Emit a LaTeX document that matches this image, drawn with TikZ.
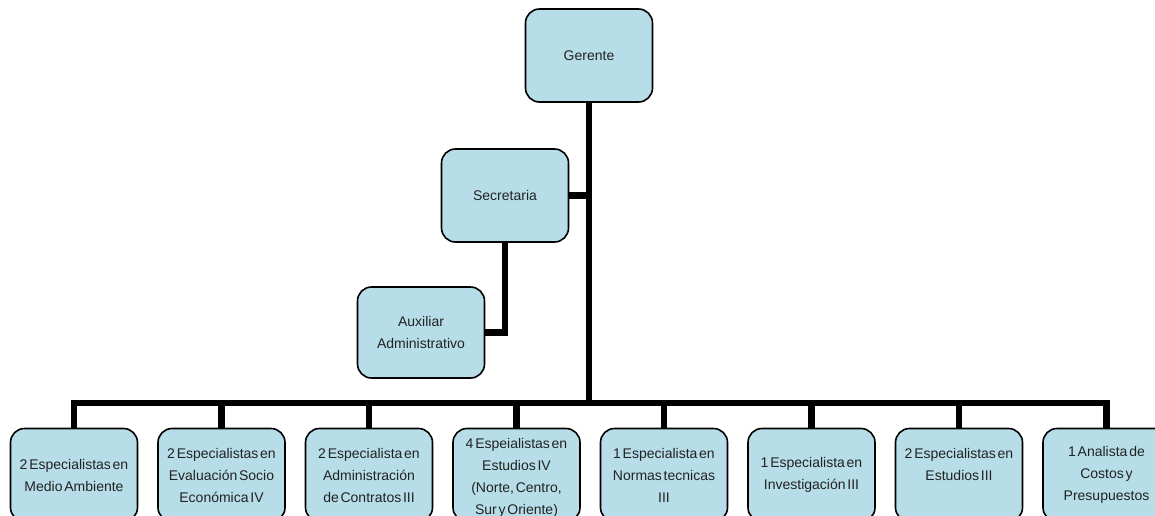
\documentclass[tikz,border=0pt]{standalone}
\usepackage{fontspec}
\setmainfont{Liberation Sans}[WordSpace=0.45]
\definecolor{boxfill}{HTML}{B7DEE8}
\definecolor{inkgray}{HTML}{222222}
\begin{document}
\begin{tikzpicture}[x=1pt,y=-1pt,
  post/.style={draw=black, line width=1.6pt, fill=boxfill, rounded corners=14pt,
    minimum width=127pt, minimum height=93pt, align=center, inner sep=2pt,
    text=inkgray, font=\fontsize{14}{22}\selectfont},
  caption/.style={align=center, inner sep=0pt, text=inkgray,
    font=\fontsize{14}{22}\selectfont},
  link/.style={draw=black, line width=6.5pt}]
\useasboundingbox (0,0) rectangle (1155,515);

% management
\node[post] (ger) at (589,55.5) {Gerente};
\node[post] (sec) at (505,195.5) {Secretaria};
\node[post, minimum height=91pt] (aux) at (421,332.5) {Auxiliar\\Administrativo};

% specialist positions
\node[post] (b1) at (74,475) {2 Especialistas en\\Medio Ambiente};
\node[post] (b2) at (221.5,475) {2 Especialistas en\\Evaluación Socio\\Económica IV};
\node[post] (b3) at (369,475) {2 Especialista en\\Administración\\de Contratos III};
\node[post] (b4) at (516.5,475) {};
\node[caption] (b4t) at ([yshift=-3pt]b4.center) {4 Espeialistas en\\Estudios IV\\(Norte, Centro,\\Sur y Oriente)};
\node[post] (b5) at (664,475) {1 Especialista en\\Normas tecnicas\\III};
\node[post] (b6) at (811.5,475) {1 Especialista en\\Investigación III};
\node[post] (b7) at (959,475) {2 Especialistas en\\Estudios III\\\mbox{}};
\node[post] (b8) at (1106.5,475) {1 Analista de\\Costos y\\Presupuestos};

% connectors
\coordinate (bus) at (0,403);
\draw[link] (ger.south) -- (ger.south |- bus);
\draw[link] (sec.east) -- (sec.east -| ger.south);
\draw[link] (sec.south) |- (aux.east);
\draw[link] (b1.north) |- (bus -| ger.south) -| (b8.north);
\foreach \b in {b2,b3,b4,b5,b6,b7}
  \draw[link] (\b.north) -- (\b.north |- bus);
\end{tikzpicture}
\end{document}
